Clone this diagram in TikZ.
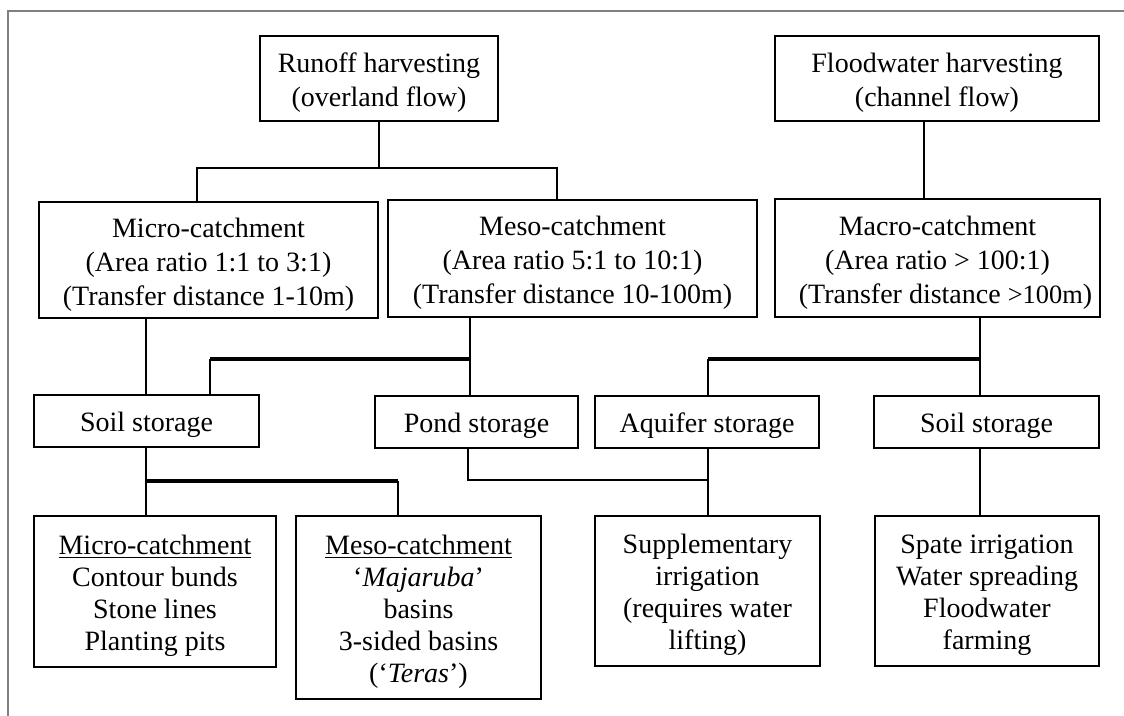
\documentclass[tikz,border=0pt]{standalone}
\usepackage{fontspec}
\setmainfont{Liberation Serif}
\newcommand{\tstrut}{\rule{0pt}{14pt}}
\begin{document}
\begin{tikzpicture}[x=0.5pt,y=-0.5pt]
\tikzset{
  box/.style={draw, line width=1pt, inner sep=0pt, align=center, font=\fontsize{14}{17}\selectfont},
  lowbox/.style={box, font=\fontsize{14}{16}\selectfont},
  conn/.style={line width=0.85pt},
  thickconn/.style={line width=2.4pt},
  frame/.style={line width=0.7pt, black!50}
}
\useasboundingbox (0,0) rectangle (1124,716);
\draw[frame] (8,716) -- (8,11) -- (1124,11);

% top row
\node[box, minimum width=119pt, minimum height=42.5pt] (roff) at (379,78.5) {\tstrut Runoff harvesting\\(overland flow)};
\node[box, minimum width=162pt, minimum height=42.5pt] (flood) at (937,78.5) {\tstrut Floodwater harvesting\\(channel flow)};

% catchment row
\node[box, minimum width=169.5pt, minimum height=58pt] (micro) at (208.5,260) {\tstrut Micro-catchment\\(Area ratio 1:1 to 3:1)\\(Transfer distance 1-10m)};
\node[box, minimum width=184.5pt, minimum height=58.5pt] (meso) at (572.5,258.5) {\tstrut Meso-catchment\\(Area ratio 5:1 to 10:1)\\(Transfer distance 10-100m)};
\node[box, minimum width=162.5pt, minimum height=59pt] (macro) at (937.5,258) {\tstrut Macro-catchment\\(Area ratio > 100:1)\\\hspace*{8pt}(Transfer distance {\fontsize{13.2}{17}\selectfont >100m})};

% storage row
\node[box, minimum width=112.5pt, minimum height=26pt] (soilL) at (146.5,421) {\tstrut Soil storage};
\node[box, minimum width=101.5pt, minimum height=26pt] (pond) at (476.5,422) {\tstrut Pond storage};
\node[box, minimum width=112pt, minimum height=26pt] (aquifer) at (707,422) {\tstrut Aquifer storage};
\node[box, minimum width=112.5pt, minimum height=26pt] (soilR) at (986.5,422) {\tstrut Soil storage};

% bottom row
\node[lowbox, minimum width=121pt, minimum height=75.5pt] (microB) at (155,591.5) {\tstrut\underline{Micro-catchment}\\Contour bunds\\Stone lines\\Planting pits};
\node[lowbox, minimum width=122.5pt, minimum height=91.5pt] (mesoB) at (418.5,607.5) {\tstrut\underline{Meso-catchment}\\‘\textit{Majaruba}’\\basins\\3-sided basins\\(‘\textit{Teras}’)};
\node[lowbox, minimum width=112.5pt, minimum height=75pt] (supp) at (707.5,591) {\tstrut Supplementary\\irrigation\\(requires water\\lifting)};
\node[lowbox, minimum width=112pt, minimum height=75pt] (spate) at (987,591) {\tstrut Spate irrigation\\Water spreading\\Floodwater\\farming};

% connectors: runoff
\coordinate (jA) at (379,168);
\coordinate (jAL) at (197,168);
\coordinate (jAR) at (557,168);
\draw[conn] (roff.south) -- (jA);
\draw[conn] (micro.north -| jAL) -- (jAL) -- (jAR) -- (meso.north -| jAR);

% floodwater
\coordinate (cF) at (924,0);
\draw[conn] (flood.south -| cF) -- (macro.north -| cF);

% micro to soil
\coordinate (cM) at (146,0);
\draw[conn] (micro.south -| cM) -- (soilL.north -| cM);

% meso
\coordinate (jB) at (470,359);
\coordinate (jBL) at (210,359);
\draw[conn] (meso.south -| jB) -- (pond.north -| jB);
\draw[thickconn] (jB) -- (jBL);
\draw[conn] (jBL) -- (soilL.north -| jBL);

% macro
\coordinate (jC) at (980,359);
\coordinate (jCL) at (708,359);
\draw[conn] (macro.south -| jC) -- (soilR.north -| jC);
\draw[thickconn] (jC) -- (jCL);
\draw[conn] (jCL) -- (aquifer.north -| jCL);

% soil (left) to bottom boxes
\coordinate (jD) at (146,481);
\coordinate (jDR) at (398,481);
\draw[conn] (soilL.south -| jD) -- (jD);
\draw[thickconn] (jD) -- (jDR);
\draw[conn] (jD) -- (microB.north -| jD);
\draw[conn] (jDR) -- (mesoB.north -| jDR);

% pond and aquifer to supplementary
\coordinate (jE) at (468,480);
\coordinate (jER) at (708,480);
\draw[conn] (pond.south -| jE) -- (jE) -- (jER);
\draw[conn] (aquifer.south -| jER) -- (supp.north -| jER);

% soil (right) to spate
\coordinate (cS) at (980,0);
\draw[conn] (soilR.south -| cS) -- (spate.north -| cS);
\end{tikzpicture}
\end{document}
